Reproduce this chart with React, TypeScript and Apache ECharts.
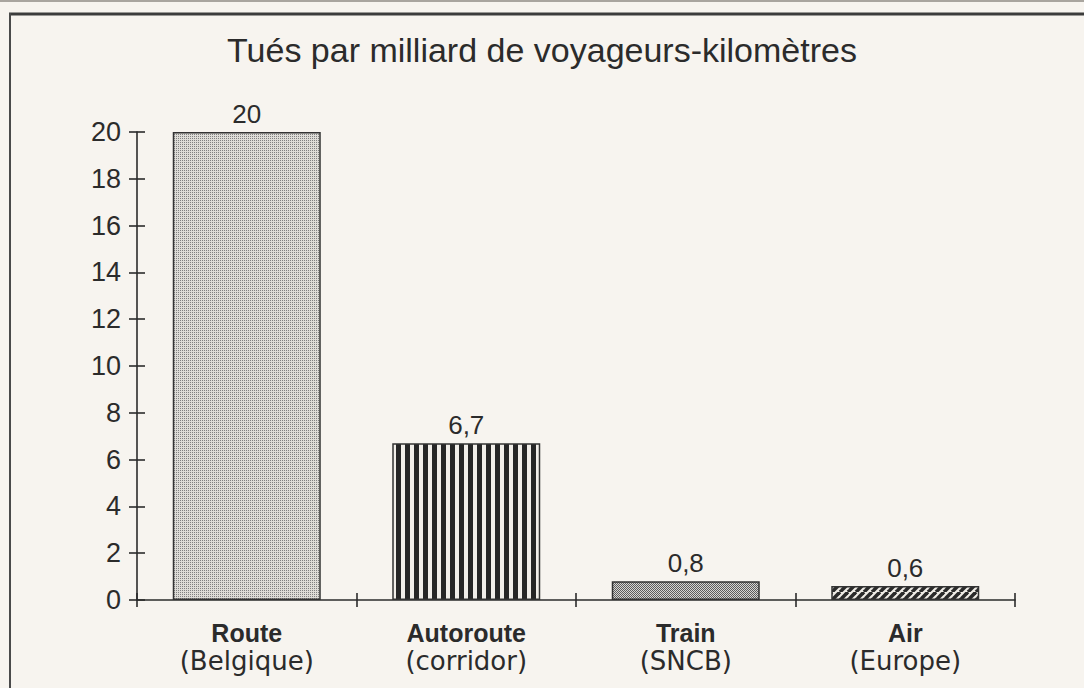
import React, { useEffect, useRef } from "react";
import * as echarts from "echarts";

const titleText = "Tués par milliard de voyageurs-kilomètres";
const categories = ["Route", "Autoroute", "Train", "Air"];
const subLabels = ["(Belgique)", "(corridor)", "(SNCB)", "(Europe)"];
const values = [20, 6.7, 0.8, 0.6];
const yMin = 0;
const yMax = 20;
const yInterval = 2;

const INK = "#2b2b2b";
const BG = "#f7f4ef";
const FONT = "'Liberation Sans', Arial, sans-serif";
const FONT_WIDE = "'DejaVu Sans', 'Liberation Sans', sans-serif";

function makeCanvas(w: number, h: number, draw: (ctx: CanvasRenderingContext2D) => void) {
  const c = document.createElement("canvas");
  c.width = w;
  c.height = h;
  const ctx = c.getContext("2d") as CanvasRenderingContext2D;
  draw(ctx);
  return c;
}

function buildPatterns() {
  const dotsLight = makeCanvas(2, 2, (ctx) => {
    ctx.fillStyle = "#dedcd7";
    ctx.fillRect(0, 0, 2, 2);
    ctx.fillStyle = "#808080";
    ctx.fillRect(0, 0, 1, 1);
  });
  const stripes = makeCanvas(9, 4, (ctx) => {
    ctx.fillStyle = "#f1eee9";
    ctx.fillRect(0, 0, 9, 4);
    ctx.fillStyle = "#262626";
    ctx.fillRect(0, 0, 5, 4);
  });
  const dotsDark = makeCanvas(2, 2, (ctx) => {
    ctx.fillStyle = "#d6d5d2";
    ctx.fillRect(0, 0, 2, 2);
    ctx.fillStyle = "#5c5c5c";
    ctx.fillRect(0, 0, 1, 1);
    ctx.fillRect(1, 1, 1, 1);
  });
  const diag = makeCanvas(8, 8, (ctx) => {
    ctx.fillStyle = "#efece6";
    ctx.fillRect(0, 0, 8, 8);
    ctx.strokeStyle = "#2a2a2a";
    ctx.lineWidth = 3.6;
    for (const k of [-8, 0, 8]) {
      ctx.beginPath();
      ctx.moveTo(k, 8);
      ctx.lineTo(k + 8, 0);
      ctx.stroke();
    }
  });
  return [dotsLight, stripes, dotsDark, diag];
}

export default function App() {
  const ref = useRef<HTMLDivElement>(null);

  useEffect(() => {
    if (!ref.current) return;
    const chart = echarts.init(ref.current, undefined, { renderer: "svg" });
    const pats = buildPatterns();

    const option: any = {
      animation: false,
      backgroundColor: BG,
      title: {
        text: titleText,
        left: "center",
        top: 33,
        padding: [0, 0, 0, 8],
        textStyle: { fontFamily: FONT, fontSize: 34, fontWeight: "normal", color: INK },
      },
      grid: { left: 137, right: 69, top: 132, bottom: 88, containLabel: false },
      xAxis: [
        {
          type: "category",
          data: categories,
          position: "bottom",
          boundaryGap: true,
          axisLine: { show: true, lineStyle: { color: INK, width: 1.6 } },
          axisTick: { show: true, length: 7, lineStyle: { color: INK, width: 1.6 } },
          axisLabel: {
            margin: 19,
            color: INK,
            fontFamily: FONT,
            formatter: (v: string, i: number) => `{b|${v}}\n{r|${subLabels[i]}}`,
            rich: {
              b: { fontFamily: FONT, fontWeight: "bold", fontSize: 25, lineHeight: 28, color: INK },
              r: { fontFamily: FONT_WIDE, fontSize: 26, lineHeight: 28, color: INK },
            },
          },
          splitLine: { show: false },
        },
        {
          type: "category",
          data: categories,
          position: "bottom",
          offset: 0,
          boundaryGap: true,
          axisLine: { show: false },
          axisTick: { show: true, inside: true, length: 7, lineStyle: { color: INK, width: 1.6 } },
          axisLabel: { show: false },
          splitLine: { show: false },
        },
      ],
      yAxis: [
        {
          type: "value",
          position: "left",
          min: yMin,
          max: yMax,
          interval: yInterval,
          axisLine: { show: true, lineStyle: { color: INK, width: 1.6 } },
          axisTick: { show: true, length: 8, lineStyle: { color: INK, width: 1.6 } },
          axisLabel: { margin: 16, color: INK, fontFamily: FONT, fontSize: 27 },
          splitLine: { show: false },
        },
        {
          type: "value",
          position: "left",
          offset: 0,
          min: yMin,
          max: yMax,
          interval: yInterval,
          axisLine: { show: false },
          axisTick: { show: true, inside: true, length: 8, lineStyle: { color: INK, width: 1.6 } },
          axisLabel: { show: false },
          splitLine: { show: false },
        },
      ],
      graphic: [
        { type: "line", shape: { x1: 0, y1: 1, x2: 1084, y2: 1 }, style: { stroke: "#a9a59f", lineWidth: 2 } },
        { type: "line", shape: { x1: 9, y1: 14, x2: 1084, y2: 14 }, style: { stroke: "#3c3c3c", lineWidth: 3 } },
        { type: "line", shape: { x1: 10, y1: 13, x2: 10, y2: 688 }, style: { stroke: "#4a4a4a", lineWidth: 2 } },
      ],
      series: [
        {
          type: "bar",
          xAxisIndex: 0,
          yAxisIndex: 0,
          barWidth: 148,
          data: values.map((v, i) => ({
            value: v,
            itemStyle: {
              color: { image: pats[i], repeat: "repeat" },
              borderColor: "#333333",
              borderWidth: 1.5,
            },
          })),
          label: {
            show: true,
            position: "top",
            distance: 5,
            color: INK,
            fontFamily: FONT,
            fontSize: 26,
            formatter: (p: any) => String(p.value).replace(".", ","),
          },
        },
      ],
    };

    chart.setOption(option);
    return () => chart.dispose();
  }, []);

  return (
    <div
      ref={ref}
      style={{ position: "fixed", left: 0, top: 0, width: 1084, height: 688, background: BG }}
    />
  );
}
